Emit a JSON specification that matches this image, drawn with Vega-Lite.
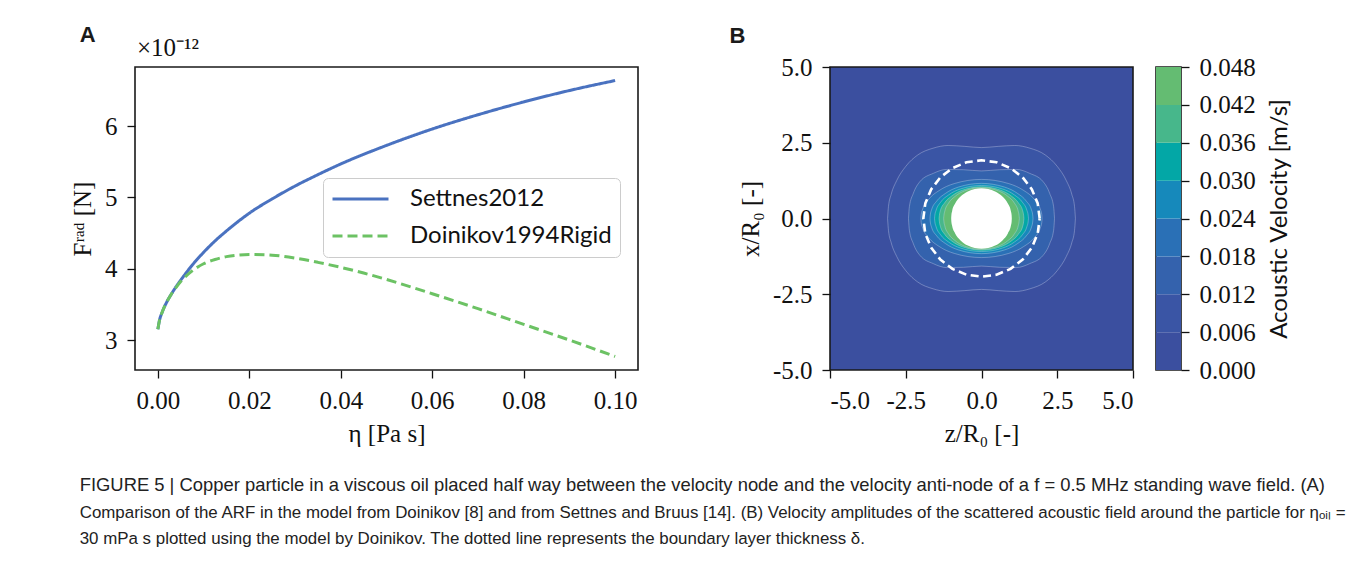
{
  "$schema": "https://vega.github.io/schema/vega-lite/v6.json",
  "background": "white",
  "padding": {"left": 69, "top": 24, "right": 10, "bottom": 10},
  "config": {
    "view": {"stroke": "#1a1a1a", "strokeWidth": 1.6},
    "axis": {"domain": false, "grid": false, "labelFont": "Liberation Serif", "labelFontSize": 25, "labelColor": "#111", "tickColor": "#111", "tickSize": 8, "tickWidth": 1.3, "labelPadding": 10, "titleFont": "Liberation Serif", "titleFontSize": 25, "titleFontWeight": "normal", "titleColor": "#111"}
  },
  "resolve": {"scale": {"color": "independent", "strokeDash": "independent"}, "legend": {"color": "independent", "strokeDash": "independent"}},
  "datasets": {
    "frad": [
      {"model": "Settnes2012", "eta": 0, "F": 3.15},
      {"model": "Settnes2012", "eta": 0.0003, "F": 3.26},
      {"model": "Settnes2012", "eta": 0.001, "F": 3.4},
      {"model": "Settnes2012", "eta": 0.002, "F": 3.54},
      {"model": "Settnes2012", "eta": 0.003, "F": 3.65},
      {"model": "Settnes2012", "eta": 0.004, "F": 3.75},
      {"model": "Settnes2012", "eta": 0.005, "F": 3.84},
      {"model": "Settnes2012", "eta": 0.0075, "F": 4.05},
      {"model": "Settnes2012", "eta": 0.01, "F": 4.23},
      {"model": "Settnes2012", "eta": 0.0125, "F": 4.39},
      {"model": "Settnes2012", "eta": 0.015, "F": 4.53},
      {"model": "Settnes2012", "eta": 0.0175, "F": 4.66},
      {"model": "Settnes2012", "eta": 0.02, "F": 4.78},
      {"model": "Settnes2012", "eta": 0.025, "F": 4.98},
      {"model": "Settnes2012", "eta": 0.03, "F": 5.16},
      {"model": "Settnes2012", "eta": 0.035, "F": 5.32},
      {"model": "Settnes2012", "eta": 0.04, "F": 5.47},
      {"model": "Settnes2012", "eta": 0.05, "F": 5.73},
      {"model": "Settnes2012", "eta": 0.06, "F": 5.96},
      {"model": "Settnes2012", "eta": 0.07, "F": 6.16},
      {"model": "Settnes2012", "eta": 0.08, "F": 6.34},
      {"model": "Settnes2012", "eta": 0.09, "F": 6.5},
      {"model": "Settnes2012", "eta": 0.1, "F": 6.64},
      {"model": "Doinikov1994Rigid", "eta": 0, "F": 3.15},
      {"model": "Doinikov1994Rigid", "eta": 0.0003, "F": 3.26},
      {"model": "Doinikov1994Rigid", "eta": 0.001, "F": 3.4},
      {"model": "Doinikov1994Rigid", "eta": 0.002, "F": 3.54},
      {"model": "Doinikov1994Rigid", "eta": 0.003, "F": 3.65},
      {"model": "Doinikov1994Rigid", "eta": 0.004, "F": 3.74},
      {"model": "Doinikov1994Rigid", "eta": 0.005, "F": 3.82},
      {"model": "Doinikov1994Rigid", "eta": 0.0075, "F": 3.97},
      {"model": "Doinikov1994Rigid", "eta": 0.01, "F": 4.07},
      {"model": "Doinikov1994Rigid", "eta": 0.0125, "F": 4.13},
      {"model": "Doinikov1994Rigid", "eta": 0.015, "F": 4.17},
      {"model": "Doinikov1994Rigid", "eta": 0.02, "F": 4.2},
      {"model": "Doinikov1994Rigid", "eta": 0.025, "F": 4.19},
      {"model": "Doinikov1994Rigid", "eta": 0.03, "F": 4.15},
      {"model": "Doinikov1994Rigid", "eta": 0.035, "F": 4.09},
      {"model": "Doinikov1994Rigid", "eta": 0.04, "F": 4.02},
      {"model": "Doinikov1994Rigid", "eta": 0.045, "F": 3.94},
      {"model": "Doinikov1994Rigid", "eta": 0.05, "F": 3.85},
      {"model": "Doinikov1994Rigid", "eta": 0.06, "F": 3.65},
      {"model": "Doinikov1994Rigid", "eta": 0.07, "F": 3.44},
      {"model": "Doinikov1994Rigid", "eta": 0.08, "F": 3.22},
      {"model": "Doinikov1994Rigid", "eta": 0.09, "F": 3.0},
      {"model": "Doinikov1994Rigid", "eta": 0.1, "F": 2.77}
    ],
    "cont": [
      {"lev": "L1", "z": -3.1, "top": 0, "bot": 0},
      {"lev": "L1", "z": -3.07, "top": 0.4, "bot": -0.4},
      {"lev": "L1", "z": -2.98, "top": 0.8, "bot": -0.8},
      {"lev": "L1", "z": -2.8, "top": 1.25, "bot": -1.25},
      {"lev": "L1", "z": -2.5, "top": 1.72, "bot": -1.72},
      {"lev": "L1", "z": -2.1, "top": 2.1, "bot": -2.1},
      {"lev": "L1", "z": -1.6, "top": 2.32, "bot": -2.32},
      {"lev": "L1", "z": -1.1, "top": 2.41, "bot": -2.41},
      {"lev": "L1", "z": -0.55, "top": 2.38, "bot": -2.38},
      {"lev": "L1", "z": 0, "top": 2.34, "bot": -2.34},
      {"lev": "L1", "z": 0.55, "top": 2.38, "bot": -2.38},
      {"lev": "L1", "z": 1.1, "top": 2.41, "bot": -2.41},
      {"lev": "L1", "z": 1.6, "top": 2.32, "bot": -2.32},
      {"lev": "L1", "z": 2.1, "top": 2.1, "bot": -2.1},
      {"lev": "L1", "z": 2.5, "top": 1.72, "bot": -1.72},
      {"lev": "L1", "z": 2.8, "top": 1.25, "bot": -1.25},
      {"lev": "L1", "z": 2.98, "top": 0.8, "bot": -0.8},
      {"lev": "L1", "z": 3.07, "top": 0.4, "bot": -0.4},
      {"lev": "L1", "z": 3.1, "top": 0, "bot": 0},
      {"lev": "L2", "z": -2.41, "top": 0, "bot": 0},
      {"lev": "L2", "z": -2.38, "top": 0.39, "bot": -0.39},
      {"lev": "L2", "z": -2.25, "top": 0.83, "bot": -0.83},
      {"lev": "L2", "z": -2.03, "top": 1.22, "bot": -1.22},
      {"lev": "L2", "z": -1.59, "top": 1.49, "bot": -1.49},
      {"lev": "L2", "z": -1.15, "top": 1.62, "bot": -1.62},
      {"lev": "L2", "z": -0.6, "top": 1.61, "bot": -1.61},
      {"lev": "L2", "z": 0, "top": 1.57, "bot": -1.57},
      {"lev": "L2", "z": 0.6, "top": 1.61, "bot": -1.61},
      {"lev": "L2", "z": 1.15, "top": 1.62, "bot": -1.62},
      {"lev": "L2", "z": 1.59, "top": 1.49, "bot": -1.49},
      {"lev": "L2", "z": 2.03, "top": 1.22, "bot": -1.22},
      {"lev": "L2", "z": 2.25, "top": 0.83, "bot": -0.83},
      {"lev": "L2", "z": 2.38, "top": 0.39, "bot": -0.39},
      {"lev": "L2", "z": 2.41, "top": 0, "bot": 0},
      {"lev": "L3", "z": -2.0, "top": 0, "bot": 0},
      {"lev": "L3", "z": -1.99, "top": 0.129, "bot": -0.129},
      {"lev": "L3", "z": -1.94, "top": 0.313, "bot": -0.313},
      {"lev": "L3", "z": -1.74, "top": 0.636, "bot": -0.636},
      {"lev": "L3", "z": -1.4, "top": 0.921, "bot": -0.921},
      {"lev": "L3", "z": -0.9, "top": 1.152, "bot": -1.152},
      {"lev": "L3", "z": 0, "top": 1.29, "bot": -1.29},
      {"lev": "L3", "z": 0.9, "top": 1.152, "bot": -1.152},
      {"lev": "L3", "z": 1.4, "top": 0.921, "bot": -0.921},
      {"lev": "L3", "z": 1.74, "top": 0.636, "bot": -0.636},
      {"lev": "L3", "z": 1.94, "top": 0.313, "bot": -0.313},
      {"lev": "L3", "z": 1.99, "top": 0.129, "bot": -0.129},
      {"lev": "L3", "z": 2.0, "top": 0, "bot": 0},
      {"lev": "L4", "z": -1.7, "top": 0, "bot": 0},
      {"lev": "L4", "z": -1.69, "top": 0.116, "bot": -0.116},
      {"lev": "L4", "z": -1.65, "top": 0.282, "bot": -0.282},
      {"lev": "L4", "z": -1.48, "top": 0.572, "bot": -0.572},
      {"lev": "L4", "z": -1.19, "top": 0.828, "bot": -0.828},
      {"lev": "L4", "z": -0.765, "top": 1.036, "bot": -1.036},
      {"lev": "L4", "z": 0, "top": 1.16, "bot": -1.16},
      {"lev": "L4", "z": 0.765, "top": 1.036, "bot": -1.036},
      {"lev": "L4", "z": 1.19, "top": 0.828, "bot": -0.828},
      {"lev": "L4", "z": 1.48, "top": 0.572, "bot": -0.572},
      {"lev": "L4", "z": 1.65, "top": 0.282, "bot": -0.282},
      {"lev": "L4", "z": 1.69, "top": 0.116, "bot": -0.116},
      {"lev": "L4", "z": 1.7, "top": 0, "bot": 0},
      {"lev": "L5", "z": -1.55, "top": 0, "bot": 0},
      {"lev": "L5", "z": -1.54, "top": 0.109, "bot": -0.109},
      {"lev": "L5", "z": -1.5, "top": 0.265, "bot": -0.265},
      {"lev": "L5", "z": -1.35, "top": 0.537, "bot": -0.537},
      {"lev": "L5", "z": -1.085, "top": 0.778, "bot": -0.778},
      {"lev": "L5", "z": -0.7, "top": 0.973, "bot": -0.973},
      {"lev": "L5", "z": 0, "top": 1.09, "bot": -1.09},
      {"lev": "L5", "z": 0.7, "top": 0.973, "bot": -0.973},
      {"lev": "L5", "z": 1.085, "top": 0.778, "bot": -0.778},
      {"lev": "L5", "z": 1.35, "top": 0.537, "bot": -0.537},
      {"lev": "L5", "z": 1.5, "top": 0.265, "bot": -0.265},
      {"lev": "L5", "z": 1.54, "top": 0.109, "bot": -0.109},
      {"lev": "L5", "z": 1.55, "top": 0, "bot": 0},
      {"lev": "L6", "z": -1.4, "top": 0, "bot": 0},
      {"lev": "L6", "z": -1.39, "top": 0.104, "bot": -0.104},
      {"lev": "L6", "z": -1.36, "top": 0.254, "bot": -0.254},
      {"lev": "L6", "z": -1.22, "top": 0.515, "bot": -0.515},
      {"lev": "L6", "z": -0.98, "top": 0.746, "bot": -0.746},
      {"lev": "L6", "z": -0.63, "top": 0.933, "bot": -0.933},
      {"lev": "L6", "z": 0, "top": 1.045, "bot": -1.045},
      {"lev": "L6", "z": 0.63, "top": 0.933, "bot": -0.933},
      {"lev": "L6", "z": 0.98, "top": 0.746, "bot": -0.746},
      {"lev": "L6", "z": 1.22, "top": 0.515, "bot": -0.515},
      {"lev": "L6", "z": 1.36, "top": 0.254, "bot": -0.254},
      {"lev": "L6", "z": 1.39, "top": 0.104, "bot": -0.104},
      {"lev": "L6", "z": 1.4, "top": 0, "bot": 0},
      {"lev": "L7", "z": -1.25, "top": 0, "bot": 0},
      {"lev": "L7", "z": -1.24, "top": 0.102, "bot": -0.102},
      {"lev": "L7", "z": -1.21, "top": 0.248, "bot": -0.248},
      {"lev": "L7", "z": -1.09, "top": 0.503, "bot": -0.503},
      {"lev": "L7", "z": -0.875, "top": 0.728, "bot": -0.728},
      {"lev": "L7", "z": -0.56, "top": 0.911, "bot": -0.911},
      {"lev": "L7", "z": 0, "top": 1.02, "bot": -1.02},
      {"lev": "L7", "z": 0.56, "top": 0.911, "bot": -0.911},
      {"lev": "L7", "z": 0.875, "top": 0.728, "bot": -0.728},
      {"lev": "L7", "z": 1.09, "top": 0.503, "bot": -0.503},
      {"lev": "L7", "z": 1.21, "top": 0.248, "bot": -0.248},
      {"lev": "L7", "z": 1.24, "top": 0.102, "bot": -0.102},
      {"lev": "L7", "z": 1.25, "top": 0, "bot": 0},
      {"lev": "P", "z": -1.0, "top": 0, "bot": 0},
      {"lev": "P", "z": -0.995, "top": 0.1, "bot": -0.1},
      {"lev": "P", "z": -0.97, "top": 0.243, "bot": -0.243},
      {"lev": "P", "z": -0.87, "top": 0.493, "bot": -0.493},
      {"lev": "P", "z": -0.7, "top": 0.714, "bot": -0.714},
      {"lev": "P", "z": -0.45, "top": 0.893, "bot": -0.893},
      {"lev": "P", "z": 0, "top": 1.0, "bot": -1.0},
      {"lev": "P", "z": 0.45, "top": 0.893, "bot": -0.893},
      {"lev": "P", "z": 0.7, "top": 0.714, "bot": -0.714},
      {"lev": "P", "z": 0.87, "top": 0.493, "bot": -0.493},
      {"lev": "P", "z": 0.97, "top": 0.243, "bot": -0.243},
      {"lev": "P", "z": 0.995, "top": 0.1, "bot": -0.1},
      {"lev": "P", "z": 1.0, "top": 0, "bot": 0}
    ],
    "ring": [
      {"i": 0, "z": 1.92, "top": 0},
      {"i": 1, "z": 1.855, "top": 0.497},
      {"i": 2, "z": 1.663, "top": 0.96},
      {"i": 3, "z": 1.358, "top": 1.358},
      {"i": 4, "z": 0.96, "top": 1.663},
      {"i": 5, "z": 0.497, "top": 1.855},
      {"i": 6, "z": 0, "top": 1.92},
      {"i": 7, "z": -0.497, "top": 1.855},
      {"i": 8, "z": -0.96, "top": 1.663},
      {"i": 9, "z": -1.358, "top": 1.358},
      {"i": 10, "z": -1.663, "top": 0.96},
      {"i": 11, "z": -1.855, "top": 0.497},
      {"i": 12, "z": -1.92, "top": 0},
      {"i": 13, "z": -1.855, "top": -0.497},
      {"i": 14, "z": -1.663, "top": -0.96},
      {"i": 15, "z": -1.358, "top": -1.358},
      {"i": 16, "z": -0.96, "top": -1.663},
      {"i": 17, "z": -0.497, "top": -1.855},
      {"i": 18, "z": 0, "top": -1.92},
      {"i": 19, "z": 0.497, "top": -1.855},
      {"i": 20, "z": 0.96, "top": -1.663},
      {"i": 21, "z": 1.358, "top": -1.358},
      {"i": 22, "z": 1.663, "top": -0.96},
      {"i": 23, "z": 1.855, "top": -0.497},
      {"i": 24, "z": 1.92, "top": 0}
    ],
    "cbar": [
      {"band": "b0", "lo": 0, "hi": 0.006},
      {"band": "b1", "lo": 0.006, "hi": 0.012},
      {"band": "b2", "lo": 0.012, "hi": 0.018},
      {"band": "b3", "lo": 0.018, "hi": 0.024},
      {"band": "b4", "lo": 0.024, "hi": 0.03},
      {"band": "b5", "lo": 0.03, "hi": 0.036},
      {"band": "b6", "lo": 0.036, "hi": 0.042},
      {"band": "b7", "lo": 0.042, "hi": 0.048}
    ]
  },
  "title": {
    "text": "FIGURE 5 | Copper particle in a viscous oil placed half way between the velocity node and the velocity anti-node of a f = 0.5 MHz standing wave field. (A)",
    "subtitle": [
      "Comparison of the ARF in the model from Doinikov [8] and from Settnes and Bruus [14]. (B) Velocity amplitudes of the scattered acoustic field around the particle for ηₒᵢₗ =",
      "30 mPa s plotted using the model by Doinikov. The dotted line represents the boundary layer thickness δ."
    ],
    "orient": "bottom", "anchor": "start", "frame": "bounds", "dx": 10, "offset": 29,
    "font": "Liberation Sans", "fontSize": 18.4, "fontWeight": "normal", "color": "#222", "baseline": "top",
    "subtitleFont": "Liberation Sans", "subtitleFontSize": 16.9, "subtitleColor": "#222", "subtitleLineHeight": 26, "subtitlePadding": 11
  },
  "spacing": 90,
  "hconcat": [
    {
      "title": {"text": "A", "anchor": "start", "frame": "bounds", "dx": 10, "offset": -12, "font": "Liberation Sans", "fontSize": 22, "fontWeight": "bold", "color": "#1a1a1a"},
      "hconcat": [
        {
          "title": {"text": "×10⁻¹²", "anchor": "start", "frame": "group", "dx": 2, "offset": 6, "font": "Liberation Serif", "fontSize": 25, "fontWeight": "normal", "color": "#111"},
          "width": 503,
          "height": 303,
          "data": {"name": "frad"},
          "mark": {"type": "line", "strokeWidth": 3, "interpolate": "monotone"},
          "encoding": {
            "x": {"field": "eta", "type": "quantitative", "scale": {"domain": [-0.005, 0.105], "nice": false, "zero": false},
                  "axis": {"values": [0, 0.02, 0.04, 0.06, 0.08, 0.1], "format": ".2f", "title": "η [Pa s]", "titlePadding": 8}},
            "y": {"field": "F", "type": "quantitative", "scale": {"domain": [2.58, 6.83], "nice": false, "zero": false},
                  "axis": {"values": [3, 4, 5, 6], "format": "d", "title": "Fʳᵃᵈ [N]", "titlePadding": 9}},
            "color": {"field": "model", "type": "nominal",
                      "scale": {"domain": ["Settnes2012", "Doinikov1994Rigid"], "range": ["#4a72c0", "#6cc264"]},
                      "legend": {"title": null, "orient": "none", "legendX": 188, "legendY": 111, "symbolType": "stroke", "symbolSize": 3136, "symbolStrokeWidth": 3, "labelFont": "Lato", "labelFontSize": 24, "labelColor": "#111", "fillColor": "white", "strokeColor": "#cccccc", "cornerRadius": 5, "padding": 8, "clipHeight": 26, "rowPadding": 11, "labelOffset": 20, "labelLimit": 400}},
            "strokeDash": {"field": "model", "type": "nominal",
                      "scale": {"domain": ["Settnes2012", "Doinikov1994Rigid"], "range": [[1, 0], [10, 5]]},
                      "legend": {"title": null, "orient": "none", "legendX": 188, "legendY": 111, "symbolType": "stroke", "symbolSize": 3136, "symbolStrokeWidth": 3, "labelFont": "Lato", "labelFontSize": 24, "labelColor": "#111", "fillColor": "white", "strokeColor": "#cccccc", "cornerRadius": 5, "padding": 8, "clipHeight": 26, "rowPadding": 11, "labelOffset": 20, "labelLimit": 400}}
          }
        }
      ]
    },
    {
      "title": {"text": "B", "anchor": "start", "frame": "bounds", "dx": -8, "offset": 6, "font": "Liberation Sans", "fontSize": 22, "fontWeight": "bold", "color": "#1a1a1a"},
      "spacing": 20,
      "resolve": {"scale": {"color": "independent"}, "legend": {"color": "independent"}},
      "hconcat": [
        {
          "width": 303,
          "height": 303,
          "view": {"fill": "#3b4f9f", "stroke": "#1a1a1a", "strokeWidth": 1.6},
          "layer": [
            {
              "data": {"name": "cont"},
              "encoding": {
                "x": {"field": "z", "type": "quantitative", "scale": {"domain": [-5, 5], "nice": false},
                      "axis": {"values": [-5, -2.5, 0, 2.5, 5], "format": ".1f", "labelExpr": "replace(datum.label, '−', '-')", "title": "z/R₀ [-]", "titlePadding": 8}},
                "y": {"field": "top", "type": "quantitative", "stack": null, "scale": {"domain": [-5, 5], "nice": false},
                      "axis": {"values": [-5, -2.5, 0, 2.5, 5], "format": ".1f", "labelExpr": "replace(datum.label, '−', '-')", "title": "x/R₀ [-]", "titlePadding": 9}},
                "y2": {"field": "bot"},
                "color": {"field": "lev", "type": "nominal",
                          "scale": {"domain": ["L1", "L2", "L3", "L4", "L5", "L6", "L7", "P"], "range": ["#3a55a5", "#3462ad", "#2a70b6", "#1689bb", "#03a7a6", "#47b78b", "#64bc72", "#ffffff"]},
                          "legend": null}
              },
              "layer": [
                {"transform": [{"filter": "datum.lev === 'L1'"}], "mark": {"type": "area", "interpolate": "monotone", "stroke": "#d6ddf0", "strokeWidth": 0.7, "strokeOpacity": 0.5}},
                {"transform": [{"filter": "datum.lev === 'L2'"}], "mark": {"type": "area", "interpolate": "monotone", "stroke": "#d6ddf0", "strokeWidth": 0.7, "strokeOpacity": 0.5}},
                {"transform": [{"filter": "datum.lev === 'L3'"}], "mark": {"type": "area", "interpolate": "monotone", "stroke": "#d6ddf0", "strokeWidth": 0.7, "strokeOpacity": 0.5}},
                {"transform": [{"filter": "datum.lev === 'L4'"}], "mark": {"type": "area", "interpolate": "monotone", "stroke": "#d6ddf0", "strokeWidth": 0.7, "strokeOpacity": 0.5}},
                {"transform": [{"filter": "datum.lev === 'L5'"}], "mark": {"type": "area", "interpolate": "monotone", "stroke": "#d6ddf0", "strokeWidth": 0.7, "strokeOpacity": 0.5}},
                {"transform": [{"filter": "datum.lev === 'L6'"}], "mark": {"type": "area", "interpolate": "monotone", "stroke": "#d6ddf0", "strokeWidth": 0.7, "strokeOpacity": 0.5}},
                {"transform": [{"filter": "datum.lev === 'L7'"}], "mark": {"type": "area", "interpolate": "monotone", "stroke": "#d6ddf0", "strokeWidth": 0.7, "strokeOpacity": 0.5}},
                {"transform": [{"filter": "datum.lev === 'P'"}], "mark": {"type": "area", "interpolate": "monotone", "strokeWidth": 0}}
              ]
            },
            {
              "data": {"name": "ring"},
              "mark": {"type": "line", "color": "#ffffff", "strokeWidth": 2.6, "strokeDash": [8, 4.5]},
              "encoding": {
                "x": {"field": "z", "type": "quantitative"},
                "y": {"field": "top", "type": "quantitative"},
                "order": {"field": "i", "type": "quantitative"}
              }
            }
          ]
        },
        {
          "width": 25,
          "height": 303,
          "data": {"name": "cbar"},
          "mark": {"type": "rect"},
          "encoding": {
            "y": {"field": "lo", "type": "quantitative", "scale": {"domain": [0, 0.048], "nice": false},
                  "axis": {"orient": "right", "values": [0, 0.006, 0.012, 0.018, 0.024, 0.03, 0.036, 0.042, 0.048], "format": ".3f", "title": "Acoustic Velocity [m/s]", "titleFont": "Lato", "titleFontSize": 24, "titleAngle": 270, "titleBaseline": "top", "titlePadding": 12}},
            "y2": {"field": "hi"},
            "color": {"field": "band", "type": "nominal",
                      "scale": {"domain": ["b0", "b1", "b2", "b3", "b4", "b5", "b6", "b7"], "range": ["#3b4f9f", "#3a55a5", "#3462ad", "#2a70b6", "#1689bb", "#03a7a6", "#47b78b", "#64bc72"]},
                      "legend": null}
          }
        }
      ]
    }
  ]
}
